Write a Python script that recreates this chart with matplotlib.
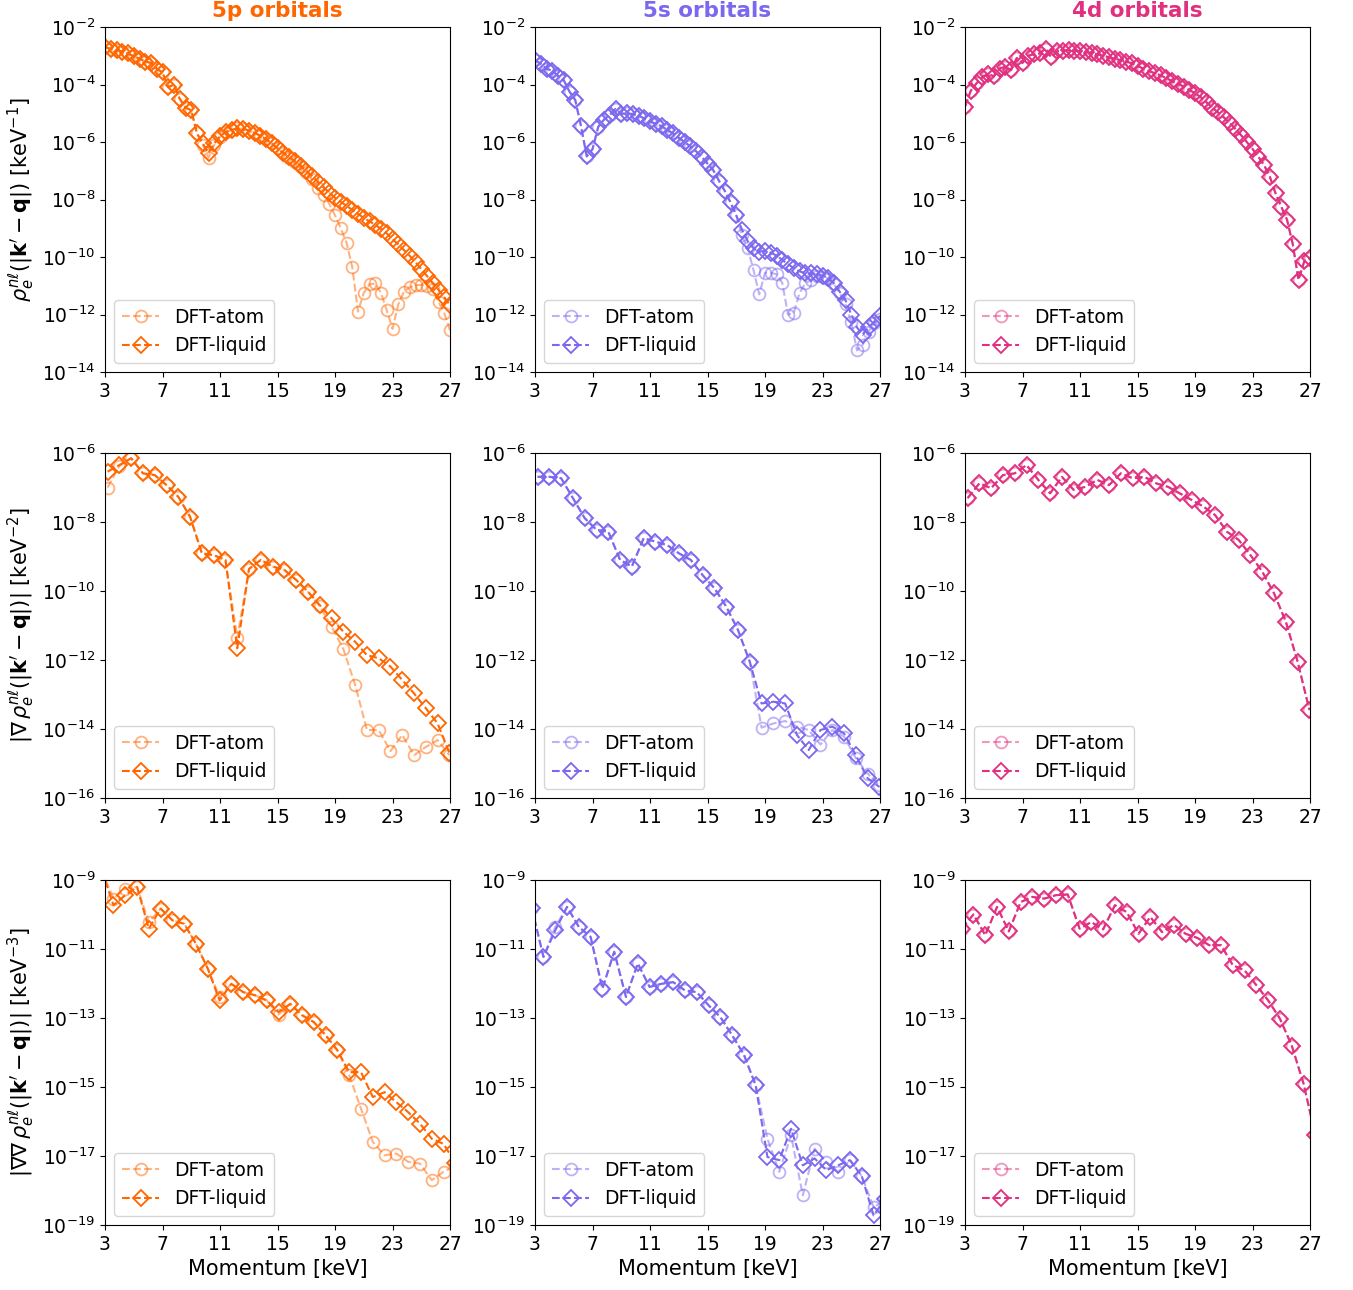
import numpy as np
import matplotlib
matplotlib.use("Agg")
import matplotlib.pyplot as plt
from matplotlib.ticker import NullLocator, LogFormatterMathtext

# ---------------- data (log10 values) ----------------
x_top = [3.0, 3.4, 3.8, 4.2, 4.6, 5.0, 5.4, 5.8, 6.2, 6.6, 7.0, 7.4, 7.8, 8.2, 8.6,
         9.0, 9.4, 9.8, 10.2, 10.6, 11.0, 11.4, 11.8, 12.2, 12.6, 13.0, 13.4, 13.8,
         14.2, 14.6, 15.0, 15.4, 15.8, 16.2, 16.6, 17.0, 17.4, 17.8, 18.2, 18.6, 19.0,
         19.4, 19.8, 20.2, 20.6, 21.0, 21.4, 21.8, 22.2, 22.6, 23.0, 23.4, 23.8, 24.2,
         24.6, 25.0, 25.4, 25.8, 26.2, 26.6, 27.0]
x_mid = [3.18, 4.0, 4.82, 5.64, 6.46, 7.28, 8.1, 8.92, 9.74, 10.56, 11.38, 12.2, 13.02,
         13.84, 14.66, 15.48, 16.3, 17.12, 17.94, 18.76, 19.58, 20.4, 21.22, 22.04,
         22.86, 23.68, 24.5, 25.32, 26.14, 26.96]
x_bot = [2.77, 3.59, 4.41, 5.23, 6.05, 6.87, 7.69, 8.51, 9.33, 10.15, 10.97, 11.79,
         12.61, 13.43, 14.25, 15.07, 15.89, 16.71, 17.53, 18.35, 19.17, 19.99, 20.81,
         21.63, 22.45, 23.27, 24.09, 24.91, 25.73, 26.55, 27.37]

# --- row 1: density ---
p5_rho_liquid = [-2.70, -2.76, -2.80, -2.86, -2.92, -3.02, -3.10, -3.20, -3.25, -3.45,
                 -3.58, -4.10, -4.00, -4.50, -4.80, -4.90, -5.70, -6.05, -6.38, -6.05,
                 -5.80, -5.66, -5.58, -5.53, -5.54, -5.60, -5.68, -5.78, -5.90, -6.05,
                 -6.22, -6.38, -6.52, -6.66, -6.82, -7.00, -7.18, -7.38, -7.58, -7.76,
                 -7.94, -8.08, -8.22, -8.36, -8.50, -8.64, -8.76, -8.88, -9.02, -9.18,
                 -9.38, -9.56, -9.76, -9.96, -10.18, -10.42, -10.66, -10.90, -11.14,
                 -11.40, -11.68]
p5_rho_atom = [-2.70, -2.76, -2.80, -2.86, -2.92, -3.02, -3.10, -3.20, -3.25, -3.45,
               -3.58, -4.10, -4.00, -4.50, -4.80, -4.90, -5.70, -6.10, -6.55, -6.10,
               -5.82, -5.66, -5.58, -5.53, -5.54, -5.60, -5.68, -5.78, -5.90, -6.05,
               -6.22, -6.38, -6.55, -6.70, -6.88, -7.05, -7.30, -7.60, -7.85, -8.15,
               -8.55, -9.00, -9.50, -10.35, -11.90, -11.25, -10.95, -10.92, -11.25,
               -11.85, -12.50, -11.65, -11.20, -11.05, -10.98, -10.97, -11.00, -11.10,
               -11.55, -11.95, -12.55]
s5_rho_liquid = [-3.15, -3.28, -3.45, -3.52, -3.70, -3.85, -4.25, -4.54, -5.45, -6.50,
                 -6.25, -5.47, -5.22, -5.06, -4.85, -5.02, -5.00, -5.03, -5.08, -5.18,
                 -5.28, -5.37, -5.45, -5.58, -5.70, -5.85, -6.00, -6.15, -6.32, -6.52,
                 -6.75, -6.98, -7.35, -7.70, -8.10, -8.55, -9.05, -9.45, -9.70, -9.82,
                 -9.78, -9.85, -9.95, -10.10, -10.25, -10.39, -10.50, -10.56, -10.57,
                 -10.60, -10.65, -10.72, -10.92, -11.21, -11.50, -12.00, -12.45, -12.70,
                 -12.45, -12.25, -12.05]
s5_rho_atom = [-3.15, -3.28, -3.45, -3.52, -3.70, -3.85, -4.25, -4.54, -5.45, -6.50,
               -6.25, -5.47, -5.22, -5.06, -4.85, -5.02, -5.00, -5.03, -5.08, -5.18,
               -5.28, -5.37, -5.45, -5.58, -5.70, -5.85, -6.00, -6.15, -6.32, -6.52,
               -6.75, -6.98, -7.35, -7.70, -8.10, -8.55, -9.25, -9.70, -10.45, -11.30,
               -10.55, -10.55, -10.60, -10.90, -12.00, -11.95, -11.25, -10.92, -10.80,
               -10.65, -10.70, -10.75, -10.95, -11.25, -11.65, -12.25, -13.25, -13.05,
               -12.60, -12.30, -12.15]
d4_rho_liquid = [-4.77, -4.22, -3.96, -3.75, -3.62, -3.72, -3.45, -3.38, -3.50, -3.08,
                 -3.25, -3.00, -2.95, -2.92, -2.75, -3.05, -2.85, -2.82, -2.80, -2.82,
                 -2.85, -2.87, -2.90, -2.95, -3.00, -3.05, -3.10, -3.15, -3.20, -3.26,
                 -3.35, -3.45, -3.53, -3.61, -3.68, -3.78, -3.88, -3.97, -4.07, -4.19,
                 -4.30, -4.44, -4.62, -4.80, -4.97, -5.14, -5.33, -5.54, -5.76, -6.00,
                 -6.24, -6.51, -6.80, -7.20, -7.78, -8.25, -8.70, -9.55, -10.80, -10.15,
                 -10.05]
d4_rho_atom = [-4.77, -4.22, -3.96, -3.75, -3.62, -3.72, -3.45, -3.38, -3.50, -3.08,
               -3.25, -3.00, -2.95, -2.92, -2.75, -3.05, -2.85, -2.82, -2.80, -2.82,
               -2.85, -2.87, -2.90, -2.95, -3.00, -3.05, -3.10, -3.15, -3.20, -3.26,
               -3.35, -3.45, -3.53, -3.61, -3.68, -3.78, -3.88, -3.97, -4.07, -4.19,
               -4.30, -4.44, -4.62, -4.80, -4.97, -5.14, -5.33, -5.54, -5.76, -6.00,
               -6.24, -6.51, -6.80, -7.20, -7.78, -8.25, -8.70, -9.55, -10.80, -10.15,
               -10.05]

# --- row 2: gradient ---
p5_grad_liquid = [-6.54, -6.35, -6.15, -6.59, -6.64, -6.93, -7.27, -7.85, -8.91, -8.96,
                  -9.10, -11.66, -9.36, -9.10, -9.29, -9.39, -9.68, -10.02, -10.41,
                  -10.79, -11.18, -11.47, -11.86, -11.95, -12.19, -12.58, -12.97, -13.40,
                  -13.84, -14.70]
p5_grad_atom = [-7.00, -6.38, -6.15, -6.59, -6.64, -6.93, -7.27, -7.85, -8.91, -8.96,
                -9.10, -11.35, -9.36, -9.10, -9.29, -9.39, -9.68, -10.02, -10.44,
                -11.03, -11.68, -12.72, -14.03, -14.03, -14.64, -14.17, -14.76, -14.52,
                -14.32, -14.76]
s5_grad_liquid = [-6.69, -6.69, -6.73, -7.31, -7.89, -8.23, -8.28, -9.10, -9.29, -8.47,
                  -8.57, -8.67, -8.91, -9.10, -9.54, -9.92, -10.45, -11.13, -12.05,
                  -13.26, -13.21, -13.26, -14.17, -14.61, -14.03, -13.93, -14.13, -14.76,
                  -15.43, -15.68]
s5_grad_atom = [-6.69, -6.69, -6.73, -7.31, -7.89, -8.23, -8.28, -9.10, -9.29, -8.47,
                -8.57, -8.67, -8.91, -9.10, -9.54, -9.92, -10.45, -11.13, -12.05,
                -13.96, -13.84, -13.77, -13.93, -14.03, -14.45, -14.03, -14.22, -14.85,
                -15.29, -15.63]
d4_grad_liquid = [-7.31, -6.88, -7.02, -6.64, -6.59, -6.35, -6.78, -7.17, -6.69, -7.07,
                  -6.98, -6.78, -6.93, -6.59, -6.73, -6.69, -6.88, -6.98, -7.17, -7.36,
                  -7.55, -7.80, -8.28, -8.52, -8.96, -9.44, -10.07, -10.89, -12.05,
                  -13.45]
d4_grad_atom = [-7.31, -6.88, -7.02, -6.64, -6.59, -6.35, -6.78, -7.17, -6.69, -7.07,
                -6.98, -6.78, -6.93, -6.59, -6.73, -6.69, -6.88, -6.98, -7.17, -7.36,
                -7.55, -7.80, -8.28, -8.52, -8.96, -9.44, -10.07, -10.89, -12.05,
                -13.45]

# --- row 3: second gradient ---
p5_hess_liquid = [-8.72, -9.73, -9.44, -9.20, -10.41, -9.83, -10.17, -10.27, -10.85,
                  -11.57, -12.49, -12.01, -12.25, -12.34, -12.49, -12.83, -12.59, -12.92,
                  -13.12, -13.50, -13.94, -14.57, -14.57, -15.29, -15.15, -15.44, -15.73,
                  -16.06, -16.50, -16.65, -17.20]
p5_hess_atom = [-8.72, -9.54, -9.25, -9.20, -10.22, -9.83, -10.17, -10.27, -10.85,
                -11.57, -12.39, -12.01, -12.25, -12.34, -12.49, -12.90, -12.59, -12.92,
                -13.12, -13.50, -13.94, -14.66, -15.63, -16.59, -16.98, -16.93, -17.17,
                -17.22, -17.70, -17.46, -17.27]
s5_hess_liquid = [-9.80, -11.23, -10.46, -9.78, -10.36, -10.65, -12.15, -11.08, -12.39,
                  -11.42, -12.10, -12.01, -11.96, -12.20, -12.25, -12.63, -12.97, -13.50,
                  -14.06, -14.95, -17.03, -17.12, -16.21, -17.27, -17.07, -17.41, -17.27,
                  -17.12, -17.58, -18.72, -18.24]
s5_hess_atom = [-9.80, -11.23, -10.36, -9.78, -10.36, -10.65, -12.15, -11.08, -12.39,
                -11.42, -12.10, -12.01, -11.96, -12.20, -12.25, -12.63, -12.97, -13.50,
                -14.06, -14.95, -16.50, -17.46, -16.40, -18.14, -16.79, -17.17, -17.46,
                -17.12, -17.58, -18.48, -18.30]
d4_hess_liquid = [-10.41, -10.00, -10.60, -9.78, -10.49, -9.64, -9.49, -9.54, -9.44,
                  -9.42, -10.41, -10.22, -10.43, -9.73, -9.93, -10.56, -10.07, -10.51,
                  -10.30, -10.56, -10.68, -10.89, -10.89, -11.47, -11.62, -12.05, -12.49,
                  -13.02, -13.80, -14.90, -16.40]
d4_hess_atom = [-10.41, -10.00, -10.60, -9.78, -10.49, -9.64, -9.49, -9.54, -9.44,
                -9.42, -10.41, -10.22, -10.43, -9.73, -9.93, -10.56, -10.07, -10.51,
                -10.30, -10.56, -10.68, -10.89, -10.89, -11.47, -11.62, -12.05, -12.49,
                -13.02, -13.80, -14.90, -16.40]

orbitals = ["5p orbitals", "5s orbitals", "4d orbitals"]
colors = ["#FF6600", "#7B68EE", "#E0307F"]
series_labels = ["DFT-atom", "DFT-liquid"]
x_ticks = [3, 7, 11, 15, 19, 23, 27]

rows = [
    (x_top, [(p5_rho_atom, p5_rho_liquid), (s5_rho_atom, s5_rho_liquid),
             (d4_rho_atom, d4_rho_liquid)], (-14, -2),
     r"$\rho_e^{n\ell}(|\mathbf{k}' - \mathbf{q}|)$ [keV$^{-1}$]"),
    (x_mid, [(p5_grad_atom, p5_grad_liquid), (s5_grad_atom, s5_grad_liquid),
             (d4_grad_atom, d4_grad_liquid)], (-16, -6),
     r"$|\nabla\, \rho_e^{n\ell}(|\mathbf{k}' - \mathbf{q}|)|$ [keV$^{-2}$]"),
    (x_bot, [(p5_hess_atom, p5_hess_liquid), (s5_hess_atom, s5_hess_liquid),
             (d4_hess_atom, d4_hess_liquid)], (-19, -9),
     r"$|\nabla\nabla\, \rho_e^{n\ell}(|\mathbf{k}' - \mathbf{q}|)|$ [keV$^{-3}$]"),
]

fig = plt.figure(figsize=(13.53, 12.90), dpi=100)
W, H = 1353.0, 1290.0
col_left = [105, 535, 965]
row_top = [27, 453, 880]
aw, ah = 345, 345

for r, (xs, pairs, (ylo, yhi), ylab) in enumerate(rows):
    for c in range(3):
        ax = fig.add_axes([col_left[c] / W, 1 - (row_top[r] + ah) / H, aw / W, ah / H])
        atom, liq = pairs[c]
        col = colors[c]
        ax.plot(xs, 10.0 ** np.array(atom), ls="--", marker="o", ms=8.5, mfc="none",
                mec=col, color=col, lw=1.5, mew=1.3, alpha=0.5, label=series_labels[0])
        ax.plot(xs, 10.0 ** np.array(liq), ls="--", marker="D", ms=8, mfc="none",
                mec=col, color=col, lw=1.5, mew=1.3, label=series_labels[1])
        ax.set_yscale("log")
        ax.set_xlim(3, 27)
        ax.set_ylim(10.0 ** ylo, 10.0 ** yhi)
        ax.set_xticks(x_ticks)
        ax.set_yticks([10.0 ** e for e in range(ylo, yhi + 1, 2)])
        ax.yaxis.set_major_formatter(LogFormatterMathtext())
        ax.yaxis.set_minor_locator(NullLocator())
        ax.tick_params(labelsize=13.5)
        ax.legend(loc="lower left", fontsize=13.5)
        if r == 0:
            ax.set_title(orbitals[c], color=col, fontsize=15.5, fontweight="bold", pad=7)
        if r == 2:
            ax.set_xlabel("Momentum [keV]", fontsize=15)
        if c == 0:
            ax.set_ylabel(ylab, fontsize=15)

fig.savefig("out.png", dpi=100)
